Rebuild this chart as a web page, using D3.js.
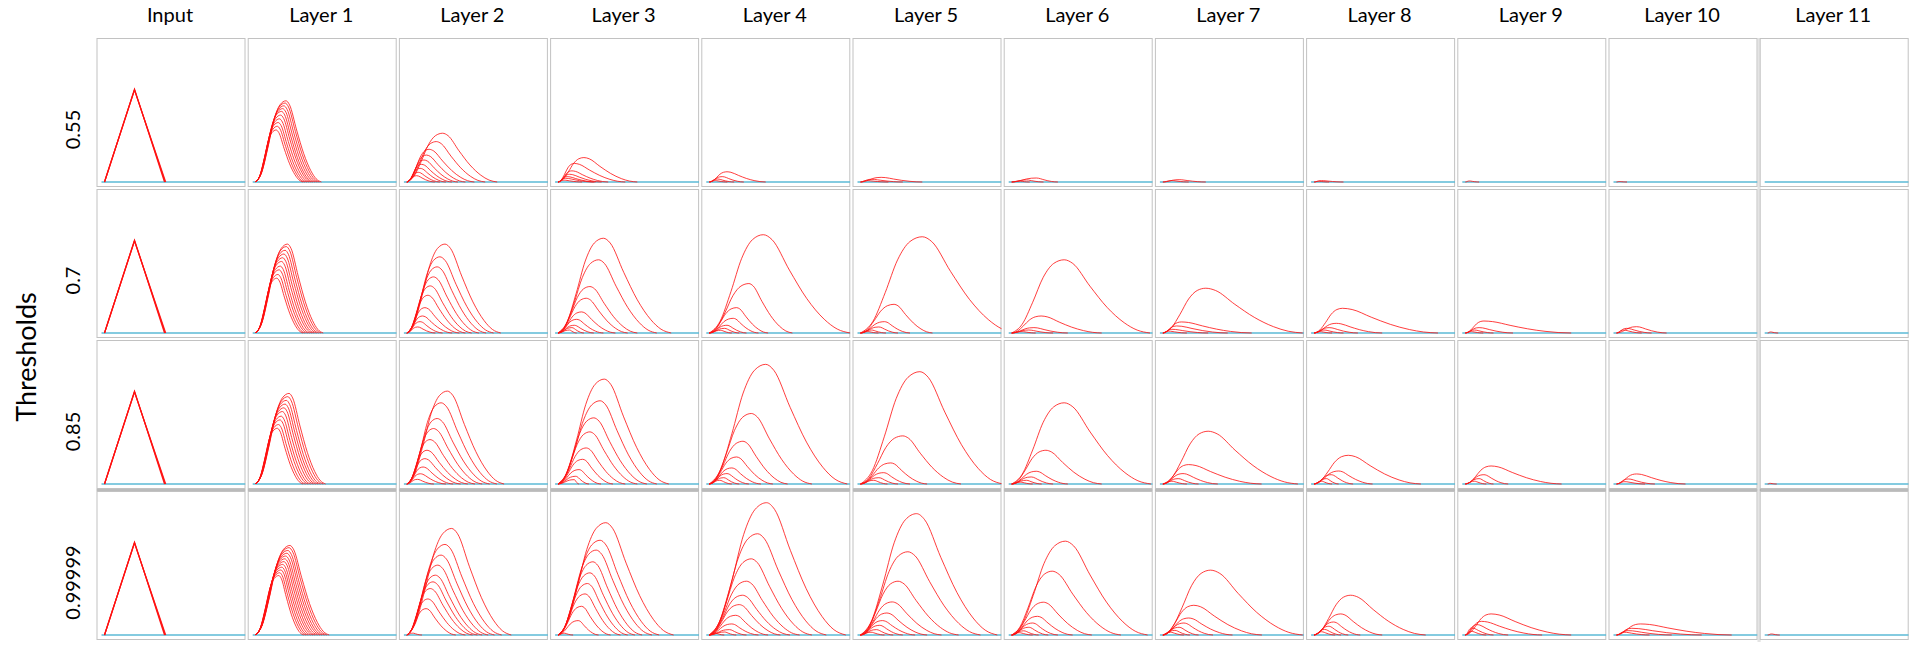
<!DOCTYPE html>
<html>
<head>
<meta charset="utf-8">
<script src="https://cdn.jsdelivr.net/npm/d3@7"></script>
<style>
  html, body { margin: 0; padding: 0; background: #fff; }
  text { font-family: Lato, "Open Sans", sans-serif; fill: #000; }
</style>
</head>
<body>
<div id="chart"></div>
<script>
// column titles and row (threshold) labels
const layers = ["Input", "Layer 1", "Layer 2", "Layer 3", "Layer 4", "Layer 5",
                "Layer 6", "Layer 7", "Layer 8", "Layer 9", "Layer 10", "Layer 11"];
const thresholds = ["0.55", "0.7", "0.85", "0.99999"];

// input pulse: [peak time, peak value, end time], all start at t = 1
const inputPulses = [[11, 1.0, 21], [11, 0.995, 21.2], [11, 0.99, 21.4]];

// each curve as [peak time, peak value, end time]
// one entry per layer (Layer 1 .. Layer 11)
const curves055 = [
  [[7.8,.56,16.8],[8.2,.60,17.4],[8.5,.64,18.1],[8.9,.68,18.8],[9.3,.72,19.5],
   [9.6,.76,20.1],[10.0,.79,20.8],[10.4,.82,21.5],[10.8,.85,22.2],[11.1,.874,22.9]],
  [[12.9,.525,31.1],[10.8,.435,27.1],[8.4,.352,23.5],[7.5,.29,20.5],[6.7,.237,18],
   [5.9,.19,16],[5.4,.147,14],[4.8,.104,12],[4.2,.068,10.3]],
  [[9.6,.263,27.4],[6.4,.2,23.4],[5.6,.12,17.7],[4.8,.083,15.5],[4.0,.058,13.5],
   [3.5,.04,12.9],[3,.02,9]],
  [[6.9,.11,19.8],[5.3,.058,12.5],[3.7,.032,9.3],[3,.015,7]],
  [[7.9,.05,21.6],[4.6,.029,15.1],[3.0,.015,10.3]],
  [[9.2,.043,16.4],[6.0,.022,11.6],[3.5,.01,7]],
  [[6.4,.025,15.3],[4.0,.015,9.6]],
  [[3.5,.015,10.8],[2.5,.008,6]],
  [[2.4,.011,5.6]],
  [[2.0,.005,4.5]],
  []
];
const curves07 = [
  [[8.0,.59,16.8],[8.4,.63,17.5],[8.8,.68,18.3],[9.2,.72,19.0],[9.6,.77,19.8],
   [10.0,.81,20.5],[10.4,.85,21.3],[10.8,.89,22.0],[11.2,.93,22.8],[11.6,.957,23.5]],
  [[13.7,.957,32.3],[12.0,.82,29.9],[11.1,.712,27.4],[9.9,.604,25],[8.8,.507,22.6],
   [8.0,.406,20.5],[7.0,.273,18.5],[6.2,.183,16.1],[5.4,.122,12.9],[4.6,.065,10.5]],
  [[16.1,1.02,38.7],[14.5,.788,33.9],[11.6,.5,27.4],[10.4,.374,24.2],[8.8,.227,20.1],
   [7.2,.147,16.1],[6.4,.083,12.9],[5.6,.058,9.6],[4.8,.032,7.2]],
  [[19.0,1.058,48],[14.2,.532,28.7],[10.1,.273,20.6],[9.0,.158,17.4],[6.9,.083,13.4],
   [6.1,.05,11],[4.8,.029,8.5]],
  [[21.6,1.036,53],[12.2,.309,25],[9.0,.122,17.5],[7.1,.065,13.5],[4.6,.032,9.5],[3.5,.015,7]],
  [[18.5,.788,47.1],[10.8,.183,31],[8.4,.058,19.7],[6.7,.032,14.8],[4.5,.015,9]],
  [[15.3,.482,47.6],[7.2,.119,30.6],[5.6,.076,22.6],[4.0,.04,16.1],[3,.02,9]],
  [[10.5,.266,42.3],[8.4,.104,23.7],[6.0,.058,15.6],[4.3,.032,10.8],[3,.015,7]],
  [[7.2,.129,36.3],[5.6,.058,16.9],[4.0,.032,10.4],[3,.015,7]],
  [[7.7,.068,17.7],[4.4,.05,12.7],[3.3,.032,9.4]],
  [[2.0,.011,4.5]]
];
const curves085 = [
  [[8.2,.60,16.8],[8.6,.64,17.6],[9.1,.69,18.5],[9.5,.73,19.3],[9.9,.78,20.2],
   [10.4,.82,21.0],[10.8,.86,21.8],[11.2,.90,22.6],[11.7,.94,23.5],[12.1,.975,24.3]],
  [[14.5,1.0,33.4],[12.4,.874,31],[11.1,.705,28.6],[9.9,.597,26.1],[8.7,.478,23.7],
   [7.7,.363,21.3],[7.0,.273,18.9],[6.4,.183,16.4],[5.5,.11,14],[4.5,.05,10]],
  [[16.4,1.129,37.9],[15.0,.896,33.9],[12.9,.712,30.6],[11.6,.561,27.4],[10.4,.388,23.4],
   [9.2,.266,19.3],[8.0,.155,15.3],[6.9,.083,11.3],[6.4,.047,8.0]],
  [[19.8,1.288,47],[15.0,.759,35.2],[12.2,.46,27.1],[10.1,.291,22.2],[8.5,.173,18.2],
   [6.9,.112,14.2],[5.8,.068,11],[4.5,.04,8.5]],
  [[20.8,1.209,48.5],[15.1,.518,34.5],[11.1,.227,23.2],[8.7,.122,17.5],[7.1,.068,13.5],[5.4,.04,10]],
  [[18.5,.874,47.4],[12.4,.363,31],[9.2,.137,19.7],[7.5,.076,14.8],[5.9,.04,11],[4,.02,8]],
  [[16.1,.568,46],[9.6,.209,33.9],[7.7,.112,19.3],[6.1,.058,12.9],[4,.03,9]],
  [[12.4,.309,36.6],[9.2,.14,20.5],[6.7,.1,14],[5.1,.058,9.2],[3.5,.03,7]],
  [[9.6,.194,33.1],[7.2,.1,15.3],[5.6,.058,10.4],[4,.03,8]],
  [[7.7,.108,24],[4.9,.054,13.8],[3.8,.025,10.5]],
  [[1.8,.007,4]]
];
const curves099999 = [
  [[8.7,.64,17.0],[9.0,.67,17.8],[9.4,.70,18.5],[9.7,.73,19.3],[10.0,.76,20.1],[10.4,.79,20.8],
   [10.7,.82,21.6],[11.0,.85,22.4],[11.4,.88,23.1],[11.7,.91,23.9],[12.1,.94,24.7],[12.4,.964,25.5]],
  [[15.9,1.147,35.8],[13.7,.975,32.6],[12.4,.86,30.2],[11.3,.752,28.1],[10.5,.644,26.1],
   [9.7,.572,24.5],[8.8,.5,22.9],[8.0,.388,20.5],[7.4,.284,17.3],[3,.02,6]],
  [[16.9,1.209,39.5],[15.0,1.02,34.7],[13.7,.914,32.3],[12.6,.788,29],[11.6,.669,26.6],
   [10.8,.554,24.2],[10.0,.442,21.8],[8.8,.309,18.5],[7.7,.155,14.5],[3,.02,6]],
  [[20.1,1.424,46.5],[17.1,1.09,40],[15.0,.82,35.2],[13.4,.579,31.1],[12.1,.428,27.9],
   [11.0,.327,24.7],[9.8,.212,20.6],[8.5,.119,17.4],[7.7,.058,13.4],[6.1,.032,10],[3,.02,6]],
  [[19.7,1.306,46.6],[16.8,.896,41],[13.5,.579,33.7],[11.6,.356,28],[9.8,.237,23.2],
   [8.3,.155,19.2],[7.4,.104,15.1],[6.3,.058,11.9],[4.5,.03,9]],
  [[18.9,1.01,46.3],[14.5,.687,37.4],[11.6,.353,27.7],[9.6,.201,21.3],[8.0,.129,16.4],
   [6.7,.083,13.2],[5,.045,10],[3.5,.025,8]],
  [[16.9,.698,47.6],[11.3,.32,34],[9.6,.183,24.2],[8.0,.129,17.7],[6.4,.083,12.9],[5,.05,10],[3.5,.03,8]],
  [[13.2,.428,38.2],[9.9,.227,23.7],[7.5,.14,16.4],[5.9,.094,12.4],[4.5,.06,10],[3.5,.035,8]],
  [[9.6,.227,36.3],[6.4,.147,26.6],[4.8,.112,15.3],[3.2,.076,10.4],[3,.04,8]],
  [[9.0,.119,39.4],[6.1,.072,29.4],[4.9,.047,19.4],[3.5,.03,12]],
  [[2.3,.011,5]]
];
const rows = [curves055, curves07, curves085, curves099999];

// bump profile (fraction of rise/fall, fraction of peak)
const riseShape = [[0,0],[0.2,0.12],[0.4,0.42],[0.6,0.76],[0.8,0.95],[1,1]];
const fallShape = [[0,1],[0.1,0.95],[0.3,0.64],[0.5,0.35],[0.7,0.14],[0.85,0.04],[1,0]];
const startTime = 1;

// layout
var width = 1920, height = 648;
var left0 = 96.5, top0 = 38;
var colStep = 151.2, rowStep = 151;
var panelW = 149, panelH = 149;

var x = d3.scaleLinear().domain([0, 48]).range([5, 149]);
var y = d3.scaleLinear().domain([0, 1.55]).range([144, 0]);

var lineSmooth = d3.line()
  .x(function(d) { return x(d[0]); })
  .y(function(d) { return y(d[1]); })
  .curve(d3.curveMonotoneX);
var lineStraight = d3.line()
  .x(function(d) { return x(d[0]); })
  .y(function(d) { return y(d[1]); });

function bumpPoints(c) {
  var xp = c[0], yp = c[1], xe = c[2];
  var up = riseShape.map(function(p) { return [startTime + p[0] * (xp - startTime), p[1] * yp]; });
  var down = fallShape.slice(1).map(function(p) { return [xp + p[0] * (xe - xp), p[1] * yp]; });
  return up.concat(down);
}

var svg = d3.select("#chart").append("svg")
  .attr("width", width)
  .attr("height", height)
  .style("display", "block");

svg.append("rect").attr("width", width).attr("height", height).attr("fill", "#fff");

// light band between the last two columns
svg.append("rect")
  .attr("x", left0 + 10 * colStep + panelW)
  .attr("y", top0)
  .attr("width", colStep - panelW + 1)
  .attr("height", 4 * rowStep)
  .attr("fill", "#e4e4e4");

// column titles
svg.selectAll(".title")
  .data(layers)
  .enter().append("text")
  .attr("class", "title")
  .attr("x", function(d, i) { return left0 + i * colStep + panelW / 2 - 1; })
  .attr("y", 22)
  .attr("text-anchor", "middle")
  .style("font-size", "20px")
  .text(function(d) { return d; });

// row labels
svg.selectAll(".rowlabel")
  .data(thresholds)
  .enter().append("text")
  .attr("class", "rowlabel")
  .attr("transform", function(d, i) {
    return "translate(80," + (top0 + i * rowStep + panelH / 2 + 17) + ") rotate(-90)";
  })
  .attr("text-anchor", "middle")
  .style("font-size", "20px")
  .text(function(d) { return d; });

svg.append("text")
  .attr("transform", "translate(36," + (top0 + 2 * rowStep + 17) + ") rotate(-90)")
  .attr("text-anchor", "middle")
  .style("font-size", "27px")
  .text("Thresholds");

var defs = svg.append("defs");
defs.append("clipPath").attr("id", "panelClip")
  .append("rect").attr("x", 0).attr("y", 0).attr("width", panelW).attr("height", panelH);

rows.forEach(function(rowCurves, r) {
  var panels = [inputPulses].concat(rowCurves);
  panels.forEach(function(curves, c) {
    var g = svg.append("g")
      .attr("transform", "translate(" + (left0 + c * colStep) + "," + (top0 + r * rowStep) + ")");

    g.append("rect")
      .attr("x", 0.5).attr("y", 0.5)
      .attr("width", panelW - 1).attr("height", panelH - 1)
      .attr("fill", "#fff")
      .attr("stroke", "#c2c2c2")
      .attr("stroke-width", 1);

    if (r === 2) {
      g.append("line")
        .attr("x1", 0).attr("x2", panelW)
        .attr("y1", panelH + 1).attr("y2", panelH + 1)
        .attr("stroke", "#777").attr("stroke-width", 1);
    }

    var plot = g.append("g").attr("clip-path", "url(#panelClip)");

    plot.append("line")
      .attr("x1", x(0)).attr("x2", panelW)
      .attr("y1", y(0)).attr("y2", y(0))
      .attr("stroke", "#5bbad6")
      .attr("stroke-width", 1.4);

    plot.selectAll(".trace")
      .data(curves)
      .enter().append("path")
      .attr("class", "trace")
      .attr("fill", "none")
      .attr("stroke", "#ff1010")
      .attr("stroke-width", c === 0 ? 1.2 : 0.9)
      .attr("stroke-opacity", 0.9)
      .attr("d", function(d) {
        if (c === 0) return lineStraight([[startTime, 0], [d[0], d[1]], [d[2], 0]]);
        return lineSmooth(bumpPoints(d));
      });
  });
});
</script>
</body>
</html>
